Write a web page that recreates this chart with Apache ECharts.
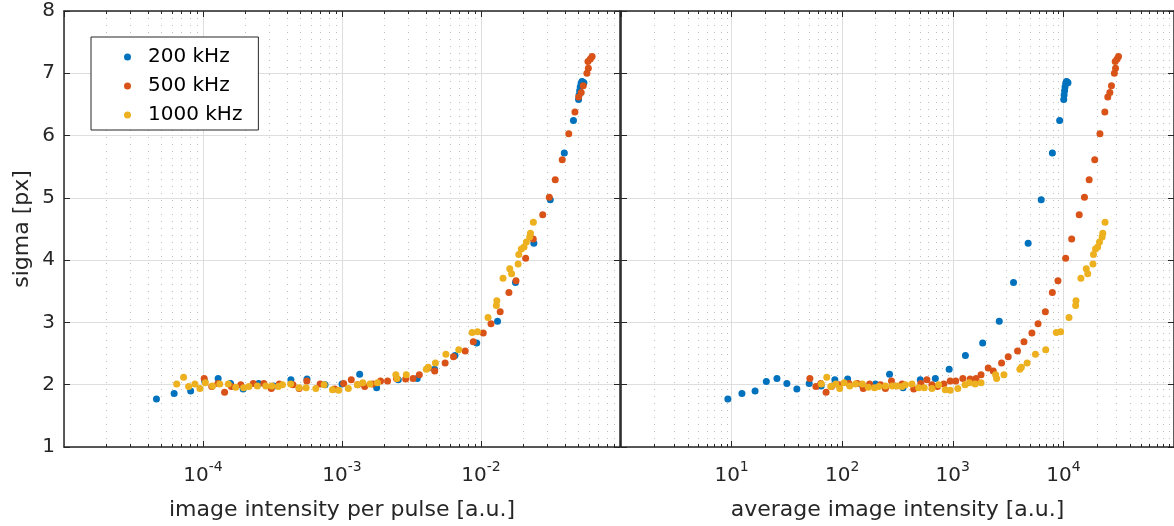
<!DOCTYPE html>
<html>
<head>
<meta charset="utf-8">
<script src="https://cdn.jsdelivr.net/npm/echarts@6/dist/echarts.min.js"></script>
<style>
    html, body { margin: 0; padding: 0; background: #fff; }
    #main { width: 1174px; height: 526px; }
</style>
</head>
<body>
<div id="main"></div>
<script>
    // rep rates of the three measurements (Hz)
    var rates = [200e3, 500e3, 1000e3];
    var names = ['200 kHz', '500 kHz', '1000 kHz'];
    var colors = ['#0072BD', '#D95319', '#EDB120'];

    // average image intensity [a.u.] and sigma [px]
    var avg200 = [9.25, 12.4, 16.3, 20.6, 25.7, 31.6, 38.9, 50.3, 64.5, 85.8, 112, 151, 200, 268, 355, 508, 695, 927,
        1300, 1862, 2630, 3540, 4800, 6300, 7950, 9250, 10070, 10150, 10250, 10350, 10500, 10650, 10800, 11000];
    var sig200 = [1.77, 1.86, 1.90, 2.05, 2.10, 2.02, 1.93, 2.02, 1.98, 2.08, 2.09, 2.00, 2.01, 2.17, 1.95, 2.08, 2.10, 2.25,
        2.47, 2.67, 3.02, 3.64, 4.27, 4.97, 5.72, 6.24, 6.58, 6.65, 6.72, 6.78, 6.84, 6.87, 6.86, 6.85];

    var avg500 = [51, 57.8, 64, 71.5, 80, 93.5, 115, 137, 155, 177, 222, 246, 279, 348, 443, 514, 583, 647, 728, 830, 947,
        1064, 1232, 1435, 1622, 1800, 2090, 2323, 2760, 3170, 3850, 4400, 5190, 5900, 6870, 7940, 8930, 10480, 11880,
        13900, 15500, 17100, 19200, 21400, 23700, 25200, 26300, 27200, 28900, 29600, 29400, 30600, 31500];
    var sig500 = [2.10, 1.97, 2.02, 1.88, 1.97, 2.00, 2.02, 2.02, 1.94, 2.01, 2.00, 1.94, 2.06, 2.01, 1.93, 2.02, 2.08, 2.00,
        1.97, 2.01, 2.06, 2.06, 2.10, 2.09, 2.10, 2.16, 2.27, 2.22, 2.35, 2.45, 2.54, 2.69, 2.83, 2.98, 3.17, 3.48, 3.67,
        4.03, 4.34, 4.73, 5.01, 5.29, 5.61, 6.03, 6.38, 6.62, 6.69, 6.80, 7.00, 7.08, 7.19, 7.23, 7.27];

    var avg1000 = [64.7, 72.5, 78.8, 87.5, 95, 104, 117, 132, 152, 172, 196, 214, 246, 283, 313, 348, 373, 427, 491, 552,
        648, 744, 854, 947, 1110, 1290, 1410, 1590, 1800, 2440, 2490, 2900, 4040, 4170, 4700, 5590, 6920, 8630, 9440,
        11240, 12900, 13000, 14400, 16100, 16600, 18500, 18700, 19500, 20400, 21200, 22400, 22700, 23800];
    var sig1000 = [2.01, 2.12, 1.97, 2.01, 1.94, 2.03, 1.98, 2.01, 2.01, 1.96, 1.95, 1.97, 1.98, 1.98, 1.98, 1.97, 2.00,
        2.01, 1.95, 1.95, 1.94, 2.00, 1.92, 1.91, 1.94, 2.00, 2.03, 2.01, 2.03, 2.16, 2.10, 2.16, 2.25, 2.28, 2.35, 2.49,
        2.56, 2.84, 2.85, 3.08, 3.27, 3.35, 3.71, 3.86, 3.78, 3.94, 4.09, 4.18, 4.21, 4.29, 4.37, 4.43, 4.61];

    // tick labels (decade exponents) shown under each panel
    var leftExps = [-4, -3, -2];
    var rightExps = [1, 2, 3, 4];
    var yTicks = [1, 2, 3, 4, 5, 6, 7, 8];

    var avgs = [avg200, avg500, avg1000];
    var sigs = [sig200, sig500, sig1000];

    var FONT = 'DejaVu Sans';
    var INK = '#262626';

    // minor (2..9 x 10^k) positions for the dotted grid
    function minorVals(e0, e1) {
        var out = [];
        for (var e = e0; e < e1; e++) {
            for (var m = 2; m <= 9; m++) out.push([m * Math.pow(10, e), 1]);
        }
        return out;
    }

    function expFormatter(list) {
        return function (v) {
            var e = Math.round(Math.log10(v));
            if (list.indexOf(e) < 0) return '';
            return '{b|10}{s|' + e + '}';
        };
    }

    var richLbl = {
        b: { fontFamily: FONT, fontSize: 20, color: INK, lineHeight: 26, verticalAlign: 'bottom' },
        s: { fontFamily: FONT, fontSize: 14, color: INK, lineHeight: 14, verticalAlign: 'top' }
    };

    function xAxes(grid, min, max, exps, title) {
        return [{
            gridIndex: grid, type: 'log', logBase: 10, min: min, max: max, position: 'bottom',
            axisLine: { show: true, lineStyle: { color: INK, width: 1.5 } },
            axisTick: { show: true, inside: true, length: 6, lineStyle: { color: INK } },
            axisLabel: { show: true, margin: 13, formatter: expFormatter(exps), rich: richLbl,
                showMinLabel: false, showMaxLabel: false },
            splitLine: { show: true, lineStyle: { color: '#dedede', width: 1 } },
            name: title, nameLocation: 'middle', nameGap: 52,
            nameTextStyle: { fontFamily: FONT, fontSize: 22, color: INK }
        }, {
            gridIndex: grid, type: 'log', logBase: 10, min: min, max: max, position: 'top',
            axisLine: { show: true, lineStyle: { color: INK, width: 1.5 } },
            axisTick: { show: true, inside: true, length: 6, lineStyle: { color: INK } },
            axisLabel: { show: false }, splitLine: { show: false }
        }];
    }

    function yAxes(grid, labels) {
        return [{
            gridIndex: grid, type: 'value', min: 1, max: 8, interval: 1, position: 'left',
            axisLine: { show: true, lineStyle: { color: INK, width: 1.5 } },
            axisTick: { show: true, inside: true, length: 6, lineStyle: { color: INK } },
            axisLabel: { show: labels, margin: 9, fontFamily: FONT, fontSize: 20, color: INK,
                formatter: function (v) { return yTicks.indexOf(v) >= 0 ? String(v) : ''; } },
            splitLine: { show: true, lineStyle: { color: '#dedede', width: 1 } },
            name: labels ? 'sigma [px]' : '', nameLocation: 'middle', nameGap: 31, nameRotate: 90,
            nameTextStyle: { fontFamily: FONT, fontSize: 22, color: INK }
        }, {
            gridIndex: grid, type: 'value', min: 1, max: 8, interval: 1, position: 'right',
            axisLine: { show: true, lineStyle: { color: INK, width: 1.5 } },
            axisTick: { show: true, inside: true, length: 6, lineStyle: { color: INK } },
            axisLabel: { show: false }, splitLine: { show: false }
        }];
    }

    function minorGrid(xi, yi, data) {
        return {
            type: 'custom', xAxisIndex: xi, yAxisIndex: yi, silent: true, z: 1,
            encode: { x: 0, y: 1 }, data: data,
            renderItem: function (params, api) {
                var cs = params.coordSys;
                var x = Math.round(api.coord([api.value(0), 1])[0]) + 0.5;
                var top = cs.y, bot = cs.y + cs.height;
                return {
                    type: 'group', children: [
                        { type: 'line', shape: { x1: x, y1: top, x2: x, y2: bot },
                          style: { stroke: '#bdbdbd', lineWidth: 1, lineDash: [1, 6] } },
                        { type: 'line', shape: { x1: x, y1: bot, x2: x, y2: bot - 3 },
                          style: { stroke: INK, lineWidth: 1 } },
                        { type: 'line', shape: { x1: x, y1: top, x2: x, y2: top + 3 },
                          style: { stroke: INK, lineWidth: 1 } }
                    ]
                };
            }
        };
    }

    var series = [minorGrid(0, 0, minorVals(-5, -1)), minorGrid(2, 2, minorVals(0, 5))];
    for (var i = 0; i < 3; i++) {
        var perPulse = [], average = [];
        for (var k = 0; k < avgs[i].length; k++) {
            perPulse.push([avgs[i][k] / rates[i], sigs[i][k]]);
            average.push([avgs[i][k], sigs[i][k]]);
        }
        series.push({ name: names[i], type: 'scatter', xAxisIndex: 0, yAxisIndex: 0, z: 3,
            symbolSize: 7, itemStyle: { color: colors[i], opacity: 1 }, data: perPulse });
        series.push({ name: names[i], type: 'scatter', xAxisIndex: 2, yAxisIndex: 2, z: 3,
            symbolSize: 7, itemStyle: { color: colors[i], opacity: 1 }, data: average });
    }

    var myChart = echarts.init(document.getElementById('main'));
    myChart.setOption({
        backgroundColor: '#fff',
        animation: false,
        grid: [
            { left: 64, top: 11, width: 556, height: 436 },
            { left: 621, top: 11, width: 556, height: 436 }
        ],
        legend: {
            data: names, orient: 'vertical', left: 91, top: 37,
            icon: 'circle', itemWidth: 7, itemHeight: 7, itemGap: 9,
            padding: [10, 16, 5, 33],
            backgroundColor: '#fff', borderColor: INK, borderWidth: 1,
            textStyle: { fontFamily: FONT, fontSize: 20, color: '#000', padding: [0, 0, 0, 12] }
        },
        xAxis: xAxes(0, 1e-5, 1e-1, leftExps, 'image intensity per pulse [a.u.]')
            .concat(xAxes(1, 1, 1e5, rightExps, 'average image intensity [a.u.]')),
        yAxis: yAxes(0, true).concat(yAxes(1, false)),
        series: series
    });
</script>
</body>
</html>
